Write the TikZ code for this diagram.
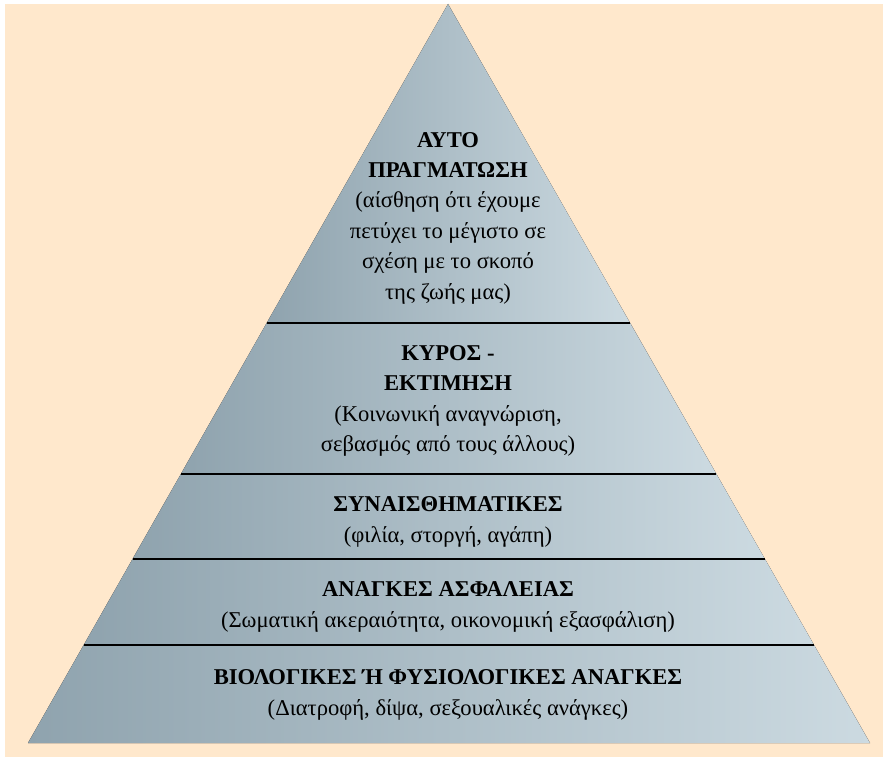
\documentclass[tikz,border=0pt]{standalone}
\usepackage{fontspec}
\setmainfont{Liberation Serif}
\usetikzlibrary{calc,positioning}
\definecolor{paper}{HTML}{FFE8CC}
\definecolor{slatedark}{HTML}{8FA3AE}
\definecolor{slatelight}{HTML}{CCDAE1}

\begin{document}
\begin{tikzpicture}[x=1pt,y=-1pt,
  every node/.style={font=\fontsize{22.6}{30.4}\selectfont,align=center,
                     inner sep=0pt},
  band/.style={left color=slatedark,right color=slatelight},
  divider/.style={line width=2.8pt,black}
]

% Page and background
\useasboundingbox (0,0) rectangle (883,757);
\fill[white] (0,0) rectangle (883,757);
\fill[paper] (5,4) rectangle (883,757);

% Pyramid outline and level corners
\coordinate (A)  at (448,4);
\coordinate (BL) at (28,743);
\coordinate (BR) at (870,743);
\foreach \i/\t in {1/0.4317,2/0.6360,3/0.7510,4/0.8674}{
  \coordinate (L\i) at ($(A)!\t!(BL)$);
  \coordinate (R\i) at ($(A)!\t!(BR)$);
}

% Bands
\fill[band] (A) -- (R1) -- (L1) -- cycle;
\fill[band] (L1) -- (R1) -- (R2) -- (L2) -- cycle;
\fill[band] (L2) -- (R2) -- (R3) -- (L3) -- cycle;
\fill[band] (L3) -- (R3) -- (R4) -- (L4) -- cycle;
\fill[band] (L4) -- (R4) -- (BR) -- (BL) -- cycle;

% Dividers between levels
\foreach \i in {1,...,4}
  \draw[divider] (L\i) -- (R\i);

% Level 5 — self-actualisation
\node (P5) at (448,218) {
  \textbf{ΑΥΤΟ}\\
  \textbf{ΠΡΑΓΜΑΤΩΣΗ}\\
  (αίσθηση ότι έχουμε\\
  πετύχει το μέγιστο σε\\
  σχέση με το σκοπό\\
  της ζωής μας)
};

% Level 4 — esteem
\node (P4) at (448,401) {
  \textbf{ΚΥΡΟΣ -}\\
  \textbf{ΕΚΤΙΜΗΣΗ}\\
  (Κοινωνική αναγνώριση,\\
  σεβασμός από τους άλλους)
};

% Level 3 — social
\node (P3) at (448,522) {
  \textbf{ΣΥΝΑΙΣΘΗΜΑΤΙΚΕΣ}\\
  (φιλία, στοργή, αγάπη)
};

% Level 2 — safety
\node (P2) at (448,607) {
  \textbf{ΑΝΑΓΚΕΣ ΑΣΦΑΛΕΙΑΣ}\\
  (Σωματική ακεραιότητα, οικονομική εξασφάλιση)
};

% Level 1 — physiological
\node (P1) at (448,695) {
  \textbf{ΒΙΟΛΟΓΙΚΕΣ Ή ΦΥΣΙΟΛΟΓΙΚΕΣ ΑΝΑΓΚΕΣ}\\
  (Διατροφή, δίψα, σεξουαλικές ανάγκες)
};

\end{tikzpicture}
\end{document}
